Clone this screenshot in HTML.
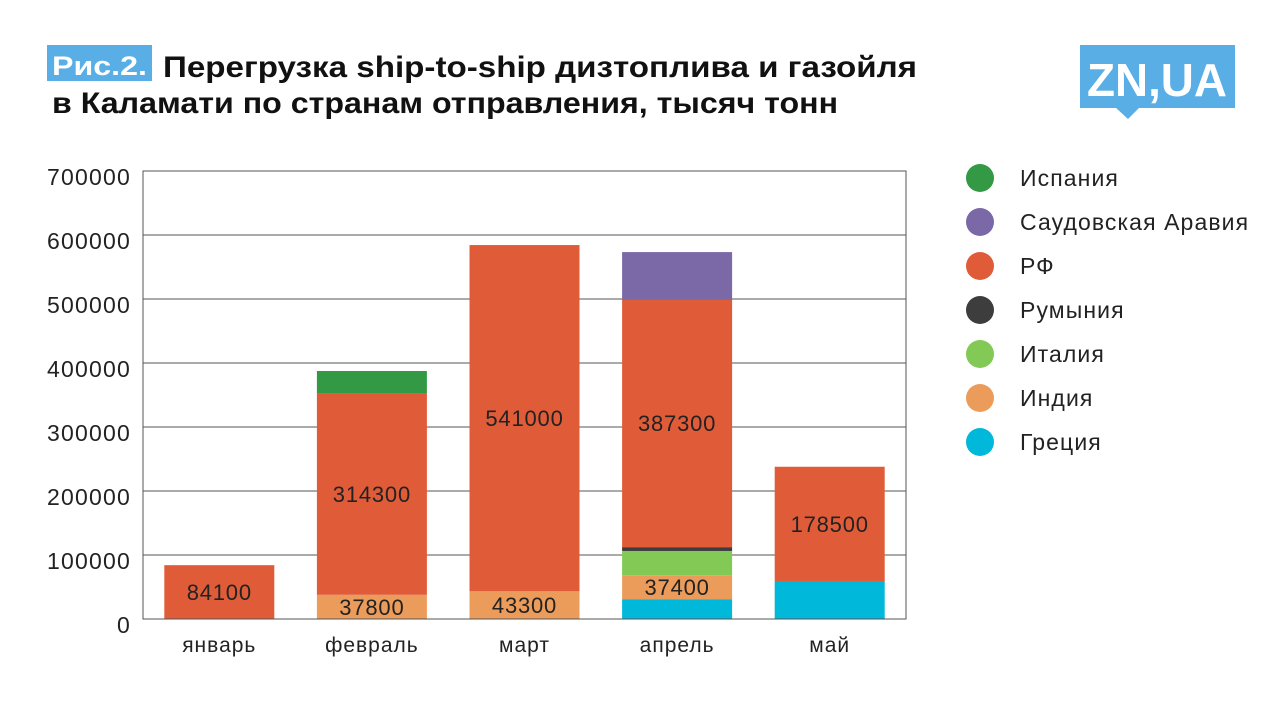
<!DOCTYPE html>
<html><head><meta charset="utf-8"><style>
body{margin:0;background:#fff;width:1280px;height:711px;overflow:hidden;font-family:"Liberation Sans",sans-serif}
</style></head><body>
<svg width="1280" height="711" xmlns="http://www.w3.org/2000/svg">
<rect x="47" y="45" width="105" height="36" fill="#5aaee6"/>
<text x="52" y="75" font-size="27" font-weight="bold" fill="#fff" textLength="95" lengthAdjust="spacingAndGlyphs">Рис.2.</text>
<text x="163" y="77" font-size="30" font-weight="bold" fill="#111" textLength="754" lengthAdjust="spacingAndGlyphs">Перегрузка ship-to-ship дизтоплива и газойля</text>
<text x="52" y="113" font-size="30" font-weight="bold" fill="#111" textLength="786" lengthAdjust="spacingAndGlyphs">в Каламати по странам отправления, тысяч тонн</text>
<g>
<rect x="1080" y="45" width="155" height="63" fill="#5aaee6"/>
<polygon points="1115,107 1140,107 1128,119" fill="#5aaee6"/>
<text x="1157" y="96" font-size="46" font-weight="bold" fill="#fff" text-anchor="middle" textLength="140" lengthAdjust="spacingAndGlyphs">ZN,UA</text>
</g>
<g id="grid"></g><g id="bars"></g><g id="legend"></g>
<rect x="143" y="171" width="763" height="448" fill="none" stroke="#555" stroke-width="1"/>
</svg>
<script>
const months=["январь","февраль","март","апрель","май"];
const series=["Греция","Индия","Италия","Румыния","РФ","Саудовская Аравия","Испания"];
const colors=["#00b8d9","#eb9c5b","#82c955","#3d3d3d","#e05c38","#7b68a6","#339944"];
const greece=[0,0,0,31000,59400];
const india=[0,37800,43300,37400,0];
const italy=[0,0,0,37900,0];
const romania=[0,0,0,6000,0];
const rf=[84100,314300,541000,387300,178500];
const saudi=[0,0,0,73700,0];
const spain=[0,35400,0,0,0];
const yTicks=[0,100000,200000,300000,400000,500000,600000,700000];
const legendOrder=["Испания","Саудовская Аравия","РФ","Румыния","Италия","Индия","Греция"];
const data=[greece,india,italy,romania,rf,saudi,spain];
const NS="http://www.w3.org/2000/svg";
const y=v=>619-v*448/700000;
const x=i=>143+(i+0.5)*763/5;
const bw=110;
function mk(t,a,p){const e=document.createElementNS(NS,t);for(const k in a)e.setAttribute(k,a[k]);p.appendChild(e);return e;}
const grid=document.getElementById('grid'),bars=document.getElementById('bars'),leg=document.getElementById('legend');
yTicks.forEach(v=>{
 const l=mk('line',{x1:143,x2:906,y1:y(v),y2:y(v),stroke:'#555','stroke-width':1},grid);
 
 
 const t=mk('text',{x:131,y:y(v)+14,'font-size':23,'letter-spacing':'1.2','text-anchor':'end',fill:'#222'},grid);
 t.textContent=v;
 
 
});
months.forEach((m,i)=>{
 const t=mk('text',{x:x(i),y:652,'font-size':21,'letter-spacing':'1','text-anchor':'middle',fill:'#222'},grid);
 t.textContent=m;
 
 
 let cum=0;
 data.forEach((s,k)=>{
  const v=s[i]; if(!v)return;
  const r=mk('rect',{x:x(i)-bw/2,y:y(cum+v),width:bw,height:y(cum)-y(cum+v),fill:colors[k]},bars);
  
  
  if(k===1||k===4){
   const tt=mk('text',{x:x(i),y:(y(cum)+y(cum+v))/2+8,'font-size':22,'letter-spacing':'0.8','text-anchor':'middle',fill:'#222'},bars);
   tt.textContent=v;
   
   
  }
  cum+=v;
 });
});
legendOrder.forEach((n,j)=>{
 const k=series.indexOf(n);const cy=178+j*44;
 const c=mk('circle',{cx:980,cy:cy,r:14,fill:colors[k]},leg);
 
 
 const t=mk('text',{x:1020,y:cy+8,'font-size':23,'letter-spacing':'1.1',fill:'#222'},leg);
 t.textContent=n;
 
 
});
</script>
</body></html>
